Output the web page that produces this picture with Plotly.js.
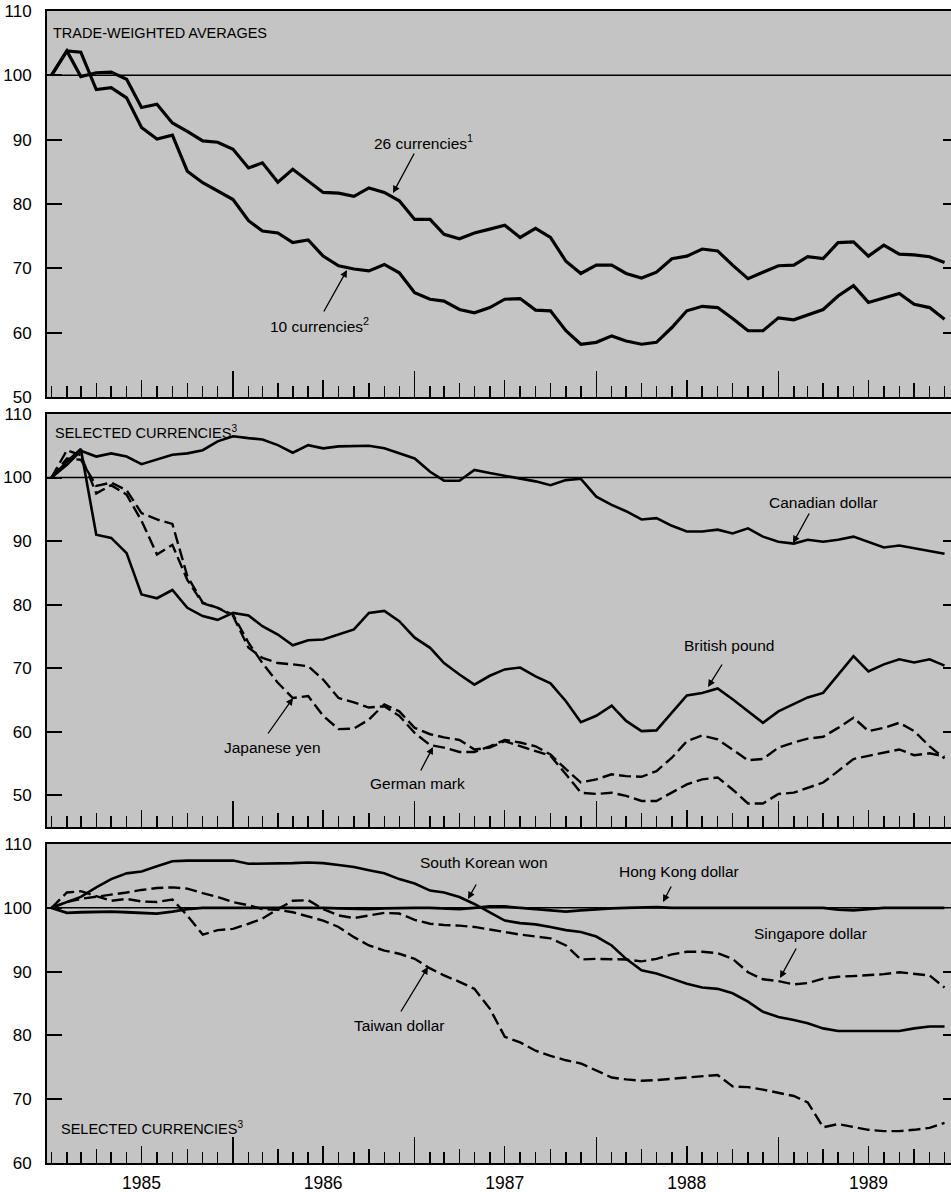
<!DOCTYPE html>
<html>
<head>
<meta charset="utf-8">
<script src="https://cdn.plot.ly/plotly-3.0.1.min.js"></script>
<style>
html,body{margin:0;padding:0;background:#fff;}
#chart{width:951px;height:1192px;}
</style>
</head>
<body>
<div id="chart"></div>
<script>
// ---------------- DATA (monthly, Jan 1985 - Dec 1989, index Jan 1985 = 100) ----------------
const START_YEAR = 1985, END_YEAR = 1989;
const MONTHS = [];
for (let y = START_YEAR; y <= END_YEAR; y++) {
  for (let m = 1; m <= 12; m++) MONTHS.push(y + '-' + String(m).padStart(2, '0') + '-01');
}

// Trade-weighted averages
const TW_26 = [100, 103.8, 99.8, 100.4, 100.5, 99.4, 95.0, 95.5, 92.6, 91.3, 89.8, 89.6,
               88.5, 85.6, 86.4, 83.4, 85.4, 83.6, 81.8, 81.7, 81.2, 82.5, 81.8, 80.5,
               77.6, 77.6, 75.3, 74.6, 75.5, 76.1, 76.7, 74.8, 76.2, 74.8, 71.1, 69.2,
               70.5, 70.5, 69.2, 68.5, 69.4, 71.5, 71.9, 73.0, 72.7, 70.5, 68.4, 69.4,
               70.4, 70.5, 71.8, 71.5, 74.0, 74.1, 71.9, 73.6, 72.2, 72.1, 71.8, 70.9];
const TW_10 = [100, 103.8, 103.6, 97.8, 98.1, 96.5, 91.9, 90.1, 90.7, 85.1, 83.3, 82.0,
               80.7, 77.4, 75.8, 75.5, 74.0, 74.4, 71.9, 70.4, 69.9, 69.6, 70.6, 69.3,
               66.2, 65.2, 64.9, 63.6, 63.1, 63.9, 65.2, 65.3, 63.5, 63.4, 60.3, 58.2,
               58.5, 59.5, 58.7, 58.2, 58.5, 60.8, 63.4, 64.1, 63.9, 62.2, 60.3, 60.3,
               62.3, 62.0, 62.8, 63.6, 65.7, 67.3, 64.7, 65.4, 66.1, 64.4, 63.9, 62.1];

// Selected currencies (panel 2)
const CAD = [100, 102.0, 104.2, 103.3, 103.8, 103.3, 102.1, 102.8, 103.6, 103.8, 104.3, 105.7,
             106.5, 106.2, 106.0, 105.1, 103.9, 105.1, 104.6, 104.9, 104.9, 105.0, 104.6, 103.8,
             103.0, 100.9, 99.5, 99.5, 101.2, 100.7, 100.3, 99.8, 99.4, 98.8, 99.6, 99.8,
             97.0, 95.7, 94.7, 93.4, 93.6, 92.4, 91.5, 91.5, 91.8, 91.2, 92.0, 90.7,
             89.9, 89.6, 90.2, 89.9, 90.2, 90.7, 89.9, 89.0, 89.3, 88.9, 88.5, 88.0];
const GBP = [100, 102.5, 104.5, 91.0, 90.5, 88.1, 81.6, 81.0, 82.3, 79.5, 78.2, 77.6,
             78.7, 78.3, 76.6, 75.3, 73.6, 74.4, 74.5, 75.3, 76.1, 78.7, 79.0, 77.4,
             74.8, 73.2, 70.8, 69.0, 67.4, 68.8, 69.8, 70.1, 68.7, 67.6, 64.8, 61.5,
             62.5, 64.1, 61.7, 60.1, 60.2, 63.0, 65.7, 66.1, 66.8, 65.1, 63.2, 61.4,
             63.2, 64.3, 65.4, 66.1, 69.0, 71.9, 69.5, 70.6, 71.4, 70.9, 71.4, 70.4];
const JPY = [100, 103.0, 102.8, 98.7, 99.2, 98.0, 94.4, 93.4, 92.7, 84.5, 80.3, 79.5,
             78.4, 74.0, 70.8, 67.7, 65.3, 65.6, 62.5, 60.4, 60.5, 61.9, 64.3, 63.2,
             60.6, 59.6, 59.1, 58.7, 57.2, 57.5, 58.5, 57.7, 57.0, 56.2, 53.3, 50.4,
             50.2, 50.4, 49.9, 49.1, 49.1, 50.4, 51.7, 52.5, 52.8, 50.9, 48.7, 48.7,
             50.2, 50.4, 51.2, 52.0, 53.8, 55.7, 56.2, 56.7, 57.2, 56.3, 56.6, 56.1];
const DEM = [100, 104.3, 103.5, 97.5, 98.8, 97.3, 93.2, 87.9, 89.4, 83.9, 80.2, 79.5,
             78.2, 73.2, 71.6, 70.8, 70.6, 70.3, 68.2, 65.3, 64.6, 63.8, 64.0, 62.5,
             59.8, 57.9, 57.5, 56.8, 56.8, 57.7, 58.7, 58.3, 57.7, 56.4, 54.1, 52.0,
             52.5, 53.3, 53.0, 52.9, 53.8, 55.9, 58.5, 59.4, 58.8, 57.2, 55.5, 55.7,
             57.5, 58.3, 58.9, 59.2, 60.6, 62.2, 60.1, 60.6, 61.4, 60.1, 57.7, 55.8];

// Selected currencies (panel 3)
const KRW = [100, 100.9, 101.7, 103.2, 104.5, 105.4, 105.7, 106.5, 107.3, 107.4, 107.4, 107.4,
             107.4, 106.9, 106.9, 107.0, 107.0, 107.1, 107.0, 106.7, 106.4, 105.9, 105.4, 104.5,
             103.8, 102.7, 102.4, 101.7, 100.6, 99.3, 98.0, 97.6, 97.4, 97.0, 96.5, 96.2,
             95.5, 94.1, 92.0, 90.2, 89.7, 88.9, 88.1, 87.5, 87.3, 86.6, 85.3, 83.7,
             82.9, 82.4, 81.9, 81.1, 80.7, 80.7, 80.7, 80.7, 80.7, 81.1, 81.4, 81.4];
const HKD = [100, 99.2, 99.3, 99.4, 99.4, 99.3, 99.2, 99.1, 99.4, 99.8, 100, 100,
             100, 100, 100, 100, 100, 100.1, 100, 99.9, 99.8, 99.8, 99.9, 100,
             100, 100, 99.9, 99.8, 100, 100.2, 100.2, 100, 99.8, 99.5, 99.4, 99.6,
             99.8, 99.9, 100, 100.1, 100.1, 100, 100, 100, 100, 100, 100, 100,
             100, 100, 100, 100, 99.7, 99.6, 99.8, 100, 100, 100, 100, 100];
const SGD = [100, 102.4, 102.6, 101.8, 101.1, 101.4, 101.0, 100.9, 101.3, 98.8, 95.8, 96.5,
             96.7, 97.5, 98.3, 99.8, 101.1, 101.2, 99.8, 98.8, 98.4, 98.8, 99.2, 99.1,
             98.1, 97.5, 97.3, 97.2, 97.0, 96.6, 96.2, 95.8, 95.5, 95.2, 94.1, 91.9,
             92.0, 92.0, 91.9, 91.6, 92.0, 92.7, 93.1, 93.1, 92.9, 92.0, 89.9, 88.8,
             88.5, 88.0, 88.2, 88.9, 89.2, 89.3, 89.4, 89.6, 89.9, 89.7, 89.4, 87.5];
const TWD = [100, 100.9, 101.4, 101.7, 102.1, 102.4, 102.8, 103.1, 103.2, 103.0, 102.3, 101.7,
             100.9, 100.4, 99.8, 99.7, 99.3, 98.6, 98.0, 97.0, 95.4, 94.1, 93.3, 92.8,
             92.0, 90.5, 89.4, 88.4, 87.3, 84.2, 79.8, 78.9, 77.6, 76.8, 76.1, 75.6,
             74.5, 73.4, 73.1, 72.9, 73.0, 73.2, 73.4, 73.6, 73.8, 72.0, 71.9, 71.5,
             71.0, 70.5, 69.5, 65.6, 66.1, 65.6, 65.2, 65.0, 65.0, 65.2, 65.5, 66.3];

// Axis ticks / labels
const YEAR_LABELS = ['1985', '1986', '1987', '1988', '1989'];
const YEAR_MID = ['1985-07-01', '1986-07-01', '1987-07-01', '1988-07-01', '1989-07-01'];
const YEAR_START = ['1986-01-01', '1987-01-01', '1988-01-01', '1989-01-01'];
const QUARTERS = ['1985-04-01', '1985-10-01', '1986-04-01', '1986-10-01', '1987-04-01', '1987-10-01',
                  '1988-04-01', '1988-10-01', '1989-04-01', '1989-10-01'];
const Y_TICKS_1 = [50, 60, 70, 80, 90, 100, 110];
const Y_TICKS_2 = [50, 60, 70, 80, 90, 100, 110];
const Y_TICKS_3 = [60, 70, 80, 90, 100, 110];
const Y_INNER_1 = [60, 70, 80, 90];
const Y_INNER_3 = [70, 80, 90];
const BASE = 100;

// ---------------- LAYOUT ----------------
const W = 951, H = 1192;
const M = {l: 47, r: 0, t: 11, b: 29};
const PW = W - M.l - M.r, PH = H - M.t - M.b;
const px2x = p => (p - M.l) / PW;
const py2y = p => (H - M.b - p) / PH;

const X_RANGE = ['1984-12-23', '1989-12-14'];
const DOM1 = [py2y(397), 1];
const DOM2 = [py2y(827), py2y(414)];
const DOM3 = [0, py2y(844)];
const R1 = [50, 110], R2 = [45, 110], R3 = [60, 110];

const LABEL_FONT = {family: '"Liberation Sans", Arial, Helvetica, sans-serif', size: 15.5, color: '#000'};
const TITLE_FONT = {family: '"Liberation Sans", Arial, Helvetica, sans-serif', size: 14.5, color: '#000'};
const TICK_FONT = {family: '"Liberation Sans", Arial, Helvetica, sans-serif', size: 17, color: '#000'};
const YEAR_FONT = {family: '"Liberation Sans", Arial, Helvetica, sans-serif', size: 17.5, color: '#000'};
const BG = '#c4c4c4';

function xMain(anchor) {
  return {
    type: 'date', range: X_RANGE, domain: [0, 1], anchor: anchor,
    showline: true, mirror: true, linecolor: '#000', linewidth: 2,
    ticks: 'inside', tickmode: 'array', tickvals: YEAR_START, ticklen: 26, tickwidth: 1.5, tickcolor: '#000',
    showticklabels: false, showgrid: false, zeroline: false, fixedrange: true,
    minor: {ticks: 'inside', tickmode: 'linear', tick0: '1985-01-01', dtick: 'M1', ticklen: 11, tickwidth: 1.5, tickcolor: '#000', showgrid: false}
  };
}
function xOverlay(over, anchor, vals, len, labels) {
  const a = {
    type: 'date', range: X_RANGE, overlaying: over, anchor: anchor, side: 'bottom',
    showline: false, ticks: 'inside', tickmode: 'array', tickvals: vals, ticklen: len, tickwidth: 1.5, tickcolor: '#000',
    showticklabels: !!labels, showgrid: false, zeroline: false, fixedrange: true
  };
  if (labels) { a.ticktext = labels; a.tickfont = YEAR_FONT; a.ticklabelstandoff = 7; }
  return a;
}
function yMain(dom, range, ticks, anchor) {
  return {
    domain: dom, range: range, anchor: anchor,
    showline: true, linecolor: '#000', linewidth: 2,
    ticks: 'inside', tickmode: 'array', tickvals: ticks, ticklen: 15, tickwidth: 2, tickcolor: '#000',
    tickfont: TICK_FONT, ticklabelstandoff: 10,
    showgrid: false, zeroline: false, fixedrange: true
  };
}
function yRight(over, range, ticks, anchor) {
  return {
    overlaying: over, side: 'right', anchor: anchor, range: range,
    showline: false, ticks: 'inside', tickmode: 'array', tickvals: ticks, ticklen: 8, tickwidth: 2, tickcolor: '#000',
    showticklabels: false, showgrid: false, zeroline: false, fixedrange: true
  };
}

function line(y, xa, ya, dash, width) {
  return {
    x: MONTHS, y: y, xaxis: xa, yaxis: ya, type: 'scatter', mode: 'lines',
    line: {color: '#000', width: width, dash: dash ? '12px,5px' : 'solid', shape: 'linear'},
    hoverinfo: 'skip', showlegend: false
  };
}
// empty helper traces so that the overlaying tick axes get drawn
function holder(xa, ya) {
  return {x: [MONTHS[0]], y: [null], xaxis: xa, yaxis: ya, type: 'scatter', mode: 'lines',
          hoverinfo: 'skip', showlegend: false, line: {color: 'rgba(0,0,0,0)'}};
}

const data = [
  line(TW_26, 'x', 'y', false, 3.2),
  line(TW_10, 'x', 'y', false, 3.2),
  line(CAD, 'x2', 'y2', false, 2.6),
  line(GBP, 'x2', 'y2', false, 2.6),
  line(JPY, 'x2', 'y2', true, 2.4),
  line(DEM, 'x2', 'y2', true, 2.4),
  line(HKD, 'x3', 'y3', false, 2.8),
  line(KRW, 'x3', 'y3', false, 2.6),
  line(SGD, 'x3', 'y3', true, 2.4),
  line(TWD, 'x3', 'y3', true, 2.4),
  holder('x4', 'y'), holder('x5', 'y2'), holder('x6', 'y3'),
  holder('x7', 'y'), holder('x8', 'y2'), holder('x9', 'y3'),
  holder('x', 'y4'), holder('x2', 'y5'), holder('x3', 'y6')
];

function txt(text, left, cy, font) {
  return {xref: 'paper', yref: 'paper', x: px2x(left), y: py2y(cy), xanchor: 'left', yanchor: 'middle',
          text: text, showarrow: false, font: font || LABEL_FONT};
}
function arrow(hx, hy, tx, ty) {
  return {xref: 'paper', yref: 'paper', x: px2x(hx), y: py2y(hy), axref: 'pixel', ayref: 'pixel',
          ax: tx - hx, ay: ty - hy, text: '', showarrow: true, arrowhead: 2, arrowsize: 1.1,
          arrowwidth: 1.3, arrowcolor: '#000', standoff: 0, startstandoff: 0};
}

const annotations = [
  txt('TRADE-WEIGHTED AVERAGES', 51, 33, TITLE_FONT),
  txt('26 currencies<sup>1</sup>', 372, 142),
  txt('10 currencies<sup>2</sup>', 268, 325),
  txt('SELECTED CURRENCIES<sup>3</sup>', 53, 432, TITLE_FONT),
  txt('Canadian dollar', 767, 502),
  txt('British pound', 682, 645),
  txt('Japanese yen', 222, 747),
  txt('German mark', 368, 783),
  txt('South Korean won', 418, 863),
  txt('Hong Kong dollar', 617, 872),
  txt('Singapore dollar', 752, 933),
  txt('Taiwan dollar', 352, 1025),
  txt('SELECTED CURRENCIES<sup>3</sup>', 59, 1128, TITLE_FONT),
  arrow(393, 193, 415, 152),
  arrow(347, 270, 323, 313),
  arrow(293, 698, 267, 735),
  arrow(433, 747, 420, 772),
  arrow(793, 543, 810, 512),
  arrow(708, 687, 723, 663),
  arrow(468, 899, 477, 883),
  arrow(663, 902, 672, 885),
  arrow(780, 978, 797, 947),
  arrow(428, 967, 400, 1013)
];

function baseLine(xa, ya) {
  return {type: 'line', xref: xa + ' domain', yref: ya, x0: 0, x1: 1, y0: BASE, y1: BASE,
          line: {color: '#000', width: 1.5}, layer: 'below'};
}

const layout = {
  width: W, height: H, margin: M,
  paper_bgcolor: '#ffffff', plot_bgcolor: BG,
  showlegend: false, hovermode: false,
  xaxis: xMain('y'), yaxis: yMain(DOM1, R1, Y_TICKS_1, 'x'),
  xaxis2: xMain('y2'), yaxis2: yMain(DOM2, R2, Y_TICKS_2, 'x2'),
  xaxis3: xMain('y3'), yaxis3: yMain(DOM3, R3, Y_TICKS_3, 'x3'),
  xaxis4: xOverlay('x', 'y', YEAR_MID, 17),
  xaxis5: xOverlay('x2', 'y2', YEAR_MID, 17),
  xaxis6: xOverlay('x3', 'y3', YEAR_MID, 17, YEAR_LABELS),
  xaxis7: xOverlay('x', 'y', QUARTERS, 14),
  xaxis8: xOverlay('x2', 'y2', QUARTERS, 14),
  xaxis9: xOverlay('x3', 'y3', QUARTERS, 14),
  yaxis4: yRight('y', R1, Y_INNER_1, 'x'),
  yaxis5: yRight('y2', R2, Y_INNER_1, 'x2'),
  yaxis6: yRight('y3', R3, Y_INNER_3, 'x3'),
  shapes: [baseLine('x', 'y'), baseLine('x2', 'y2'), baseLine('x3', 'y3')],
  annotations: annotations
};

Plotly.newPlot('chart', data, layout, {staticPlot: true, displayModeBar: false});
</script>
</body>
</html>
